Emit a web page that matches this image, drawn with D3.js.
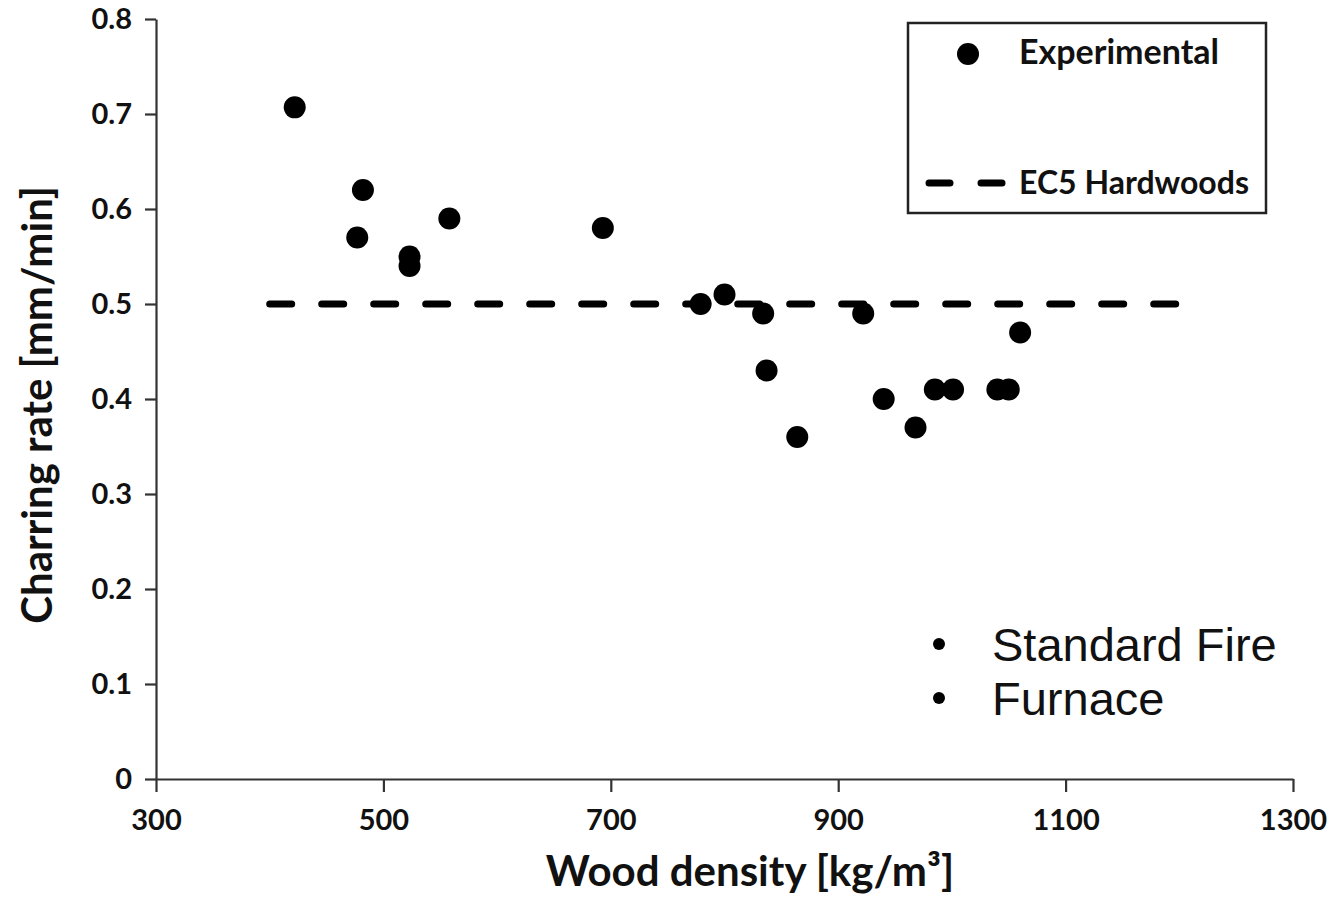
<!DOCTYPE html>
<html>
<head>
<meta charset="utf-8">
<script src="https://cdn.jsdelivr.net/npm/d3@7"></script>
<style>
  body { margin: 0; background: #fff; }
  svg text { font-family: Lato, "Open Sans", sans-serif; fill: #111; }
</style>
</head>
<body>
<div class="chart"></div>
<script>
// charring rate vs wood density
const density = [422, 482, 477, 523, 523, 558, 693, 779, 800, 834, 837, 864, 922, 940, 968, 985, 1001, 1040, 1050, 1060];
const rate = [0.707, 0.62, 0.57, 0.55, 0.54, 0.59, 0.58, 0.50, 0.51, 0.49, 0.43, 0.36, 0.49, 0.40, 0.37, 0.41, 0.41, 0.41, 0.41, 0.47];
const ec5Density = [400, 1200];
const ec5Rate = [0.5, 0.5];
const xTicks = [300, 500, 700, 900, 1100, 1300];
const yTicks = [0, 0.1, 0.2, 0.3, 0.4, 0.5, 0.6, 0.7, 0.8];
const notes = ['Standard Fire', 'Furnace'];

const width = 1334;
const height = 906;

const svg = d3.select('.chart').append('svg')
  .attr('width', width)
  .attr('height', height);

const x = d3.scaleLinear().domain([300, 1300]).range([156, 1293]);
const y = d3.scaleLinear().domain([0, 0.8]).range([779, 19]);

// axes
const xAxis = svg.append('g')
  .attr('transform', 'translate(0,' + y(0) + ')')
  .call(d3.axisBottom(x).tickValues(xTicks).tickSize(13).tickPadding(17).tickSizeOuter(0)
    .tickFormat(d3.format('d')));
const yAxis = svg.append('g')
  .attr('transform', 'translate(' + x(300) + ',0)')
  .call(d3.axisLeft(y).tickValues(yTicks).tickSize(11).tickPadding(13).tickSizeOuter(0)
    .tickFormat(d => d === 0 ? '0' : d3.format('.1f')(d)));

[xAxis, yAxis].forEach(g => {
  g.selectAll('.domain, line').attr('stroke', '#333').attr('stroke-width', 2.2);
  g.selectAll('text').attr('font-size', 29).attr('font-weight', 'bold').style('fill', '#111');
});

// EC5 line
const line = d3.line().x(d => x(d[0])).y(d => y(d[1]));
svg.append('path')
  .datum(ec5Density.map((d, i) => [d, ec5Rate[i]]))
  .attr('d', line)
  .attr('fill', 'none')
  .attr('stroke', '#000')
  .attr('stroke-width', 7)
  .attr('stroke-linecap', 'round')
  .attr('stroke-dasharray', '22,30');

// points
svg.selectAll('circle.pt')
  .data(density)
  .enter()
  .append('circle')
  .attr('class', 'pt')
  .attr('cx', d => x(d))
  .attr('cy', (d, i) => y(rate[i]))
  .attr('r', 11)
  .attr('fill', '#000');

// axis titles
svg.append('text')
  .attr('x', 750)
  .attr('y', 886)
  .attr('text-anchor', 'middle')
  .attr('font-size', 42)
  .attr('font-weight', 'bold')
  .text('Wood density [kg/m³]');

svg.append('text')
  .attr('transform', 'translate(52,405) rotate(-90)')
  .attr('text-anchor', 'middle')
  .attr('font-size', 42)
  .attr('font-weight', 'bold')
  .text('Charring rate [mm/min]');

// legend
const legend = svg.append('g');
legend.append('rect')
  .attr('x', 908).attr('y', 23)
  .attr('width', 358).attr('height', 190)
  .attr('fill', '#fff')
  .attr('stroke', '#222')
  .attr('stroke-width', 2.5);
legend.append('circle')
  .attr('cx', 968).attr('cy', 54).attr('r', 11).attr('fill', '#000');
legend.append('text')
  .attr('x', 1019).attr('y', 64)
  .attr('font-size', 34).attr('font-weight', 'bold')
  .text('Experimental');
legend.append('line')
  .attr('x1', 929).attr('x2', 1002)
  .attr('y1', 183).attr('y2', 183)
  .attr('stroke', '#000')
  .attr('stroke-width', 7)
  .attr('stroke-linecap', 'round')
  .attr('stroke-dasharray', '21,31');
legend.append('text')
  .attr('x', 1019).attr('y', 194)
  .attr('font-size', 32).attr('font-weight', 'bold')
  .text('EC5 Hardwoods');

// bullet notes
const noteG = svg.append('g');
noteG.selectAll('circle.bullet')
  .data(notes)
  .enter()
  .append('circle')
  .attr('class', 'bullet')
  .attr('cx', 939)
  .attr('cy', (d, i) => 644 + i * 54)
  .attr('r', 6)
  .attr('fill', '#000');
noteG.selectAll('text.note')
  .data(notes)
  .enter()
  .append('text')
  .attr('class', 'note')
  .attr('x', 992)
  .attr('y', (d, i) => 661 + i * 54)
  .style('font-family', '"Liberation Sans", Arial, sans-serif')
  .attr('font-size', 47)
  .text(d => d);
</script>
</body>
</html>
